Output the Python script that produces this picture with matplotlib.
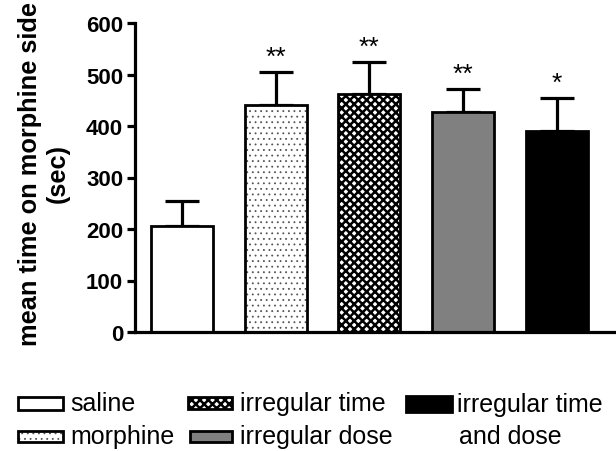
import matplotlib
matplotlib.use("Agg")
import matplotlib.pyplot as plt
from matplotlib.patches import Rectangle
import numpy as np

plt.rcParams['font.family'] = ['Liberation Sans', 'DejaVu Sans']

groups = ["saline", "morphine", "irregular time", "irregular dose", "irregular time\nand dose"]
means = [206, 441, 462, 427, 390]
errors = [48, 64, 62, 45, 64]
stars = ["", "**", "**", "**", "*"]
yticks = [0, 100, 200, 300, 400, 500, 600]
facecolors = ["white", "white", "white", "#808080", "black"]
hatches = [None, "...", "xxxx", None, None]
hatchcolors = ["black", "#555555", "black", "black", "black"]
hatchlw = [1.0, 0.6, 1.8, 1.0, 1.0]

W, H = 616, 452
fig = plt.figure(figsize=(W / 100, H / 100), dpi=100)
ax = fig.add_axes([135 / W, 1 - 333 / H, (615 - 135) / W, (333 - 24) / H])

x = np.arange(len(groups))
# hatch layers (hatch colour follows edge colour)
for i in range(len(groups)):
    with plt.rc_context({'hatch.linewidth': hatchlw[i]}):
        b = ax.bar(x[i], means[i], width=0.66, color=facecolors[i],
                   edgecolor=hatchcolors[i], linewidth=0, hatch=hatches[i],
                   zorder=2)
        if hasattr(b[0], "set_hatch_linewidth"):
            b[0].set_hatch_linewidth(hatchlw[i])
# outlines
ax.bar(x, means, width=0.66, color="none", edgecolor="black", linewidth=2.0,
       zorder=3)
ax.errorbar(x, means, yerr=[np.zeros(len(means)), errors], fmt="none",
            ecolor="black", elinewidth=2.3, capsize=12, capthick=2.3, zorder=1)

for xi, m, e, s in zip(x, means, errors, stars):
    if s:
        ax.annotate(s, (xi, m + e), xytext=(0, 11), textcoords="offset points",
                    ha="center", va="center", fontsize=19)

ax.set_xlim(-0.5, 4.62)
ax.set_ylim(0, 600)
ax.set_yticks(yticks)
ax.set_xticks([])
for sp in ["top", "right"]:
    ax.spines[sp].set_visible(False)
for sp in ["left", "bottom"]:
    ax.spines[sp].set_linewidth(2.3)
ax.tick_params(axis="y", width=2.3, length=6, labelsize=16, pad=2.5)
for t in ax.get_yticklabels():
    t.set_fontweight("bold")
ax.set_ylabel("mean time on morphine side\n(sec)", fontsize=18.3,
              fontweight="bold", linespacing=1.22, va="center")
ax.yaxis.set_label_coords((44 - 135) / 480, 0.515)

# legend (drawn in figure pixel coordinates)
def fx(px):
    return px / W

def fy(py):
    return 1 - py / H

items = [
    (0, 18, 63, 398, 411, 70, 404.5),
    (1, 18, 63, 432, 443, 70, 437.5),
    (2, 188, 232, 398, 410, 240, 404.5),
    (3, 190, 232, 432, 443, 240, 437.5),
    (4, 406, 452, 397, 413, 457, 405),
]
for i, x0, x1, y0, y1, tx, ty in items:
    rect = (fx(x0), fy(y1)), fx(x1) - fx(x0), fy(y0) - fy(y1)
    with plt.rc_context({'hatch.linewidth': hatchlw[i]}):
        r = Rectangle(*rect, transform=fig.transFigure, facecolor=facecolors[i],
                      edgecolor=hatchcolors[i], linewidth=0, hatch=hatches[i])
        if hasattr(r, "set_hatch_linewidth"):
            r.set_hatch_linewidth(hatchlw[i])
    fig.patches.append(r)
    fig.patches.append(Rectangle(*rect, transform=fig.transFigure,
                                 facecolor="none", edgecolor="black",
                                 linewidth=2.0))
    lines = groups[i].split("\n")
    for k, ln in enumerate(lines):
        fig.text(fx(tx + (2 if k else 0)), fy(ty + 32 * k), ln, fontsize=18,
                 ha="left", va="center")

fig.savefig("out.png", dpi=100)
